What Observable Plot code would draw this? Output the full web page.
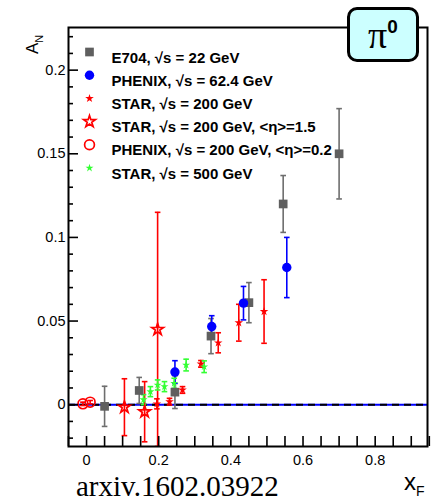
<!DOCTYPE html>
<html>
<head>
<meta charset="utf-8">
<script src="https://cdn.jsdelivr.net/npm/d3@7"></script>
<script src="https://cdn.jsdelivr.net/npm/@observablehq/plot@0.6"></script>
<style>
  html, body { margin: 0; padding: 0; background: #fff; }
  #wrap { position: relative; width: 431px; height: 502px; overflow: hidden; font-family: "Liberation Sans", Arial, sans-serif; }
  #wrap svg { position: absolute; left: 0; top: 0; }
  .ov { position: absolute; white-space: nowrap; }
</style>
</head>
<body>
<div id="wrap"></div>
<script>
// ---- data ----
const e704X   = [0.05, 0.146, 0.245, 0.345, 0.45, 0.545, 0.70];
const e704Y   = [-0.001, 0.0085, 0.0075, 0.041, 0.061, 0.120, 0.150];
const e704Err = [0.012, 0.0078, 0.0098, 0.0105, 0.012, 0.017, 0.027];

const phx62X   = [0.245, 0.347, 0.435, 0.555];
const phx62Y   = [0.0195, 0.0467, 0.0607, 0.082];
const phx62Err = [0.0068, 0.0065, 0.010, 0.018];

const star200X   = [0.195, 0.23, 0.266, 0.317, 0.365, 0.422, 0.492];
const star200Y   = [0.0005, 0.0018, 0.0088, 0.0244, 0.037, 0.049, 0.0557];
const star200Err = [0.003, 0.002, 0.002, 0.002, 0.006, 0.011, 0.019];

const starEtaX   = [0.105, 0.161, 0.197];
const starEtaY   = [-0.0015, -0.0042, 0.045];
const starEtaErr = [0.017, 0.018, 0.070];

const phx200X   = [-0.01, 0.01];
const phx200Y   = [0.0005, 0.0015];
const phx200Err = [0.001, 0.001];

const star500X   = [0.158, 0.177, 0.197, 0.216, 0.243, 0.276, 0.326];
const star500Y   = [0.003, 0.0078, 0.0118, 0.0108, 0.0128, 0.0237, 0.0227];
const star500Err = [0.003, 0.003, 0.003, 0.003, 0.003, 0.0035, 0.0035];

const legendLabels = [
  "E704, \u221As = 22 GeV",
  "PHENIX, \u221As = 62.4 GeV",
  "STAR, \u221As = 200 GeV",
  "STAR, \u221As = 200 GeV, <\u03B7>=1.5",
  "PHENIX, \u221As = 200 GeV, <\u03B7>=0.2",
  "STAR, \u221As = 500 GeV"
];

const xTicks = [0, 0.2, 0.4, 0.6, 0.8];
const xTickLabels = ["0", "0.2", "0.4", "0.6", "0.8"];
const xMinor = d3.range(-0.05, 0.9501, 0.05).map(v => +v.toFixed(2));
const yTicks = [0, 0.05, 0.1, 0.15, 0.2];
const yTickLabels = ["0", "0.05", "0.1", "0.15", "0.2"];
const yMinor = d3.range(-0.02, 0.2201, 0.01).map(v => +v.toFixed(2));

// ---- build ----
const mk = (xs, ys, es) => xs.map((x, i) => ({x, y: ys[i], e: es[i]}));
const series = [
  {data: mk(e704X, e704Y, e704Err), symbol: "square", r: 4.9, fill: "#5f5f5f", stroke: "none", bar: "#6e6e6e", sw: 0},
  {data: mk(phx62X, phx62Y, phx62Err), symbol: "circle", r: 4.7, fill: "#0000ff", stroke: "none", bar: "#0000ff", sw: 0},
  {data: mk(star200X, star200Y, star200Err), symbol: "star", r: 2.7, fill: "#ff0000", stroke: "none", bar: "#ff0000", sw: 0},
  {data: mk(starEtaX, starEtaY, starEtaErr), symbol: "star", r: 3.7, fill: "none", stroke: "#ff0000", bar: "#ff0000", sw: 1.7},
  {data: mk(phx200X, phx200Y, phx200Err), symbol: "circle", r: 4.9, fill: "none", stroke: "#ff0000", bar: "#ff0000", sw: 1.7},
  {data: mk(star500X, star500Y, star500Err), symbol: "star", r: 2.5, fill: "#33ff33", stroke: "none", bar: "#33ff33", sw: 0}
];

const cap = {draw(ctx) { ctx.moveTo(-2.8, 0); ctx.lineTo(2.8, 0); }};

const marks = [];
// zero line: blue solid with black dashes
marks.push(Plot.ruleY([0], {stroke: "#0000ff", strokeWidth: 2}));
marks.push(Plot.ruleY([0], {stroke: "#000", strokeWidth: 2, strokeDasharray: "7,5"}));

for (const s of series) {
  marks.push(Plot.ruleX(s.data, {x: "x", y1: d => d.y - d.e, y2: d => d.y + d.e, stroke: s.bar, strokeWidth: 1.6, clip: true}));
  marks.push(Plot.dot(s.data, {x: "x", y: d => d.y - d.e, symbol: cap, r: 3, stroke: s.bar, strokeWidth: 1.6, fill: "none", clip: true}));
  marks.push(Plot.dot(s.data, {x: "x", y: d => d.y + d.e, symbol: cap, r: 3, stroke: s.bar, strokeWidth: 1.6, fill: "none", clip: true}));
}
for (const s of series) {
  marks.push(Plot.dot(s.data, {x: "x", y: "y", symbol: s.symbol, r: s.r, fill: s.fill, stroke: s.stroke, strokeWidth: s.sw}));
}

// axes: labels outside, ticks inward
marks.push(Plot.axisY({ticks: yTicks, tickFormat: d => yTickLabels[yTicks.indexOf(d)], tickSize: 0, tickPadding: 3, fontSize: 14.5, fill: "#000"}));
marks.push(Plot.axisY({ticks: yTicks, tickFormat: () => "", tickSize: -10, strokeWidth: 1.6}));
marks.push(Plot.axisY({ticks: yMinor.filter(v => !yTicks.includes(v)), tickFormat: () => "", tickSize: -5, strokeWidth: 1.6}));
marks.push(Plot.axisX({ticks: xTicks, tickFormat: d => xTickLabels[xTicks.indexOf(d)], tickSize: 0, tickPadding: 8, fontSize: 14.5, fill: "#000"}));
marks.push(Plot.axisX({ticks: xMinor, tickFormat: () => "", tickSize: -10, strokeWidth: 1.6}));
marks.push(Plot.frame({stroke: "#000", strokeWidth: 2}));

// legend (inside frame)
legendLabels.forEach((lab, i) => {
  const s = series[i];
  const dy = 24.5 + i * 23.2;
  marks.push(Plot.dot([lab], {frameAnchor: "top-left", dx: 21, dy, symbol: s.symbol, r: s.r, fill: s.fill, stroke: s.stroke, strokeWidth: s.sw}));
  marks.push(Plot.text([lab], {frameAnchor: "top-left", dx: 43, dy, text: d => d, textAnchor: "start", fontWeight: "bold", fontSize: 15, fill: "#000"}));
});

const chart = Plot.plot({
  width: 431,
  height: 502,
  marginLeft: 68,
  marginRight: 4,
  marginTop: 27,
  marginBottom: 56,
  style: {fontFamily: "'Liberation Sans', Arial, sans-serif", background: "transparent", overflow: "visible"},
  x: {domain: [-0.05, 0.945], label: null},
  y: {domain: [-0.025, 0.2255], label: null},
  marks
});

const wrap = document.getElementById("wrap");
wrap.appendChild(chart);

function ov(html, css) {
  const d = document.createElement("div");
  d.className = "ov";
  d.innerHTML = html;
  Object.assign(d.style, css);
  wrap.appendChild(d);
  return d;
}
// pi0 box
ov('<span style="font-family:\'Liberation Serif\',serif;font-size:38px;">\u03C0</span><span style="font-weight:bold;font-size:19px;position:relative;top:-15px;">0</span>', {
  left: "347px", top: "7px", width: "66px", height: "49px", border: "3px solid #000", borderRadius: "10px",
  background: "#ccffff", textAlign: "center", lineHeight: "50px"
});
// y label A_N (rotated)
ov('A<span style="font-size:11px;position:relative;top:5px;">N</span>', {
  left: "14px", top: "30px", fontSize: "17px", transformOrigin: "left top", transform: "rotate(-90deg) translate(-24px, 10px)", lineHeight: "18px"
});
// x label x_F
ov('x<span style="font-size:14px;position:relative;top:6px;">F</span>', {
  left: "404px", top: "469px", fontSize: "24px", lineHeight: "26px"
});
// caption
ov('arxiv.1602.03922', {
  left: "76px", top: "469px", fontSize: "29px", fontFamily: "'Liberation Serif', 'Times New Roman', serif", lineHeight: "34px"
});
</script>
</body>
</html>
